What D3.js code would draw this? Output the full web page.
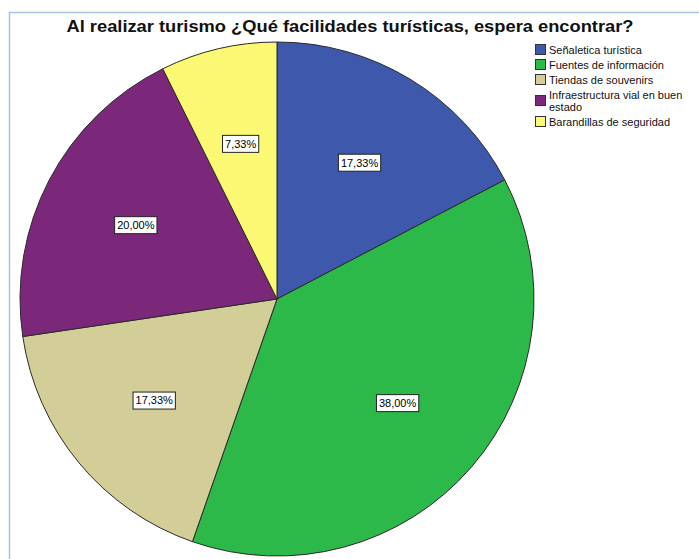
<!DOCTYPE html>
<html><head><meta charset="utf-8">
<script src="https://cdn.jsdelivr.net/npm/d3@7"></script>
<style>
body{margin:0;background:#fff;}
text{font-family:"Liberation Sans",Arial,sans-serif;}
</style></head>
<body><svg id="c" width="699" height="559"></svg>
<script>
const categories = ["Señaletica turística","Fuentes de información","Tiendas de souvenirs","Infraestructura vial en buen estado","Barandillas de seguridad"];
const values = [17.33, 38.00, 17.33, 20.00, 7.33];
const labels = ["17,33%","38,00%","17,33%","20,00%","7,33%"];
const colors = ["#3e58ac","#2db84a","#d3ce98","#7b287b","#fbf873"];

const svg = d3.select("#c");
// frame
svg.append("rect").attr("x",9.5).attr("y",12.5).attr("width",720).attr("height",600)
  .attr("fill","#fff").attr("stroke","#a9c4e8").attr("stroke-width",1.5);

svg.append("text").attr("x",350).attr("y",32).attr("text-anchor","middle")
  .attr("font-size",16.5).attr("font-weight","bold").attr("fill","#111")
  .attr("textLength",567).attr("lengthAdjust","spacingAndGlyphs")
  .text("Al realizar turismo ¿Qué facilidades turísticas, espera encontrar?");

const cx=277, cy=299, r=257;
const pie = d3.pie().sort(null).value(d=>d);
const arcs = pie(values);
const arc = d3.arc().innerRadius(0).outerRadius(r);
const g = svg.append("g").attr("transform",`translate(${cx},${cy})`);
g.selectAll("path").data(arcs).join("path")
  .attr("d",arc).attr("fill",(d,i)=>colors[i])
  .attr("stroke","#2a2a2a").attr("stroke-width",1);

const lab = d3.arc().innerRadius(r*0.62).outerRadius(r*0.62);
arcs.forEach((d,i)=>{
  const [x,y]=lab.centroid(d);
  const lg=g.append("g").attr("transform",`translate(${x},${y})`);
  const t=lg.append("text").attr("text-anchor","middle").attr("dy","0.35em")
    .attr("font-size",11).attr("fill","#000").text(labels[i]);
  const w=t.node().getComputedTextLength();
  lg.insert("rect","text").attr("x",-w/2-2.5).attr("y",-8.5).attr("width",w+5).attr("height",17)
    .attr("fill","#fff").attr("stroke","#222").attr("stroke-width",1);
});

// legend
const leg = svg.append("g").attr("transform","translate(535,44)");
const rowsY=[0,15,30,45,72];
categories.forEach((c,i)=>{
  const y=rowsY[i];
  const lines = i===3 ? ["Infraestructura vial en buen","estado"] : [c];
  const sy = i===3 ? y+6 : y;
  leg.append("rect").attr("x",0.5).attr("y",sy+0.5).attr("width",10).attr("height",10)
    .attr("fill",colors[i]).attr("stroke","#333").attr("stroke-width",1);
  lines.forEach((l,j)=>{
    leg.append("text").attr("x",14).attr("y",y+9.5+j*12).attr("font-size",11).attr("fill","#111").text(l);
  });
});
</script></body></html>
